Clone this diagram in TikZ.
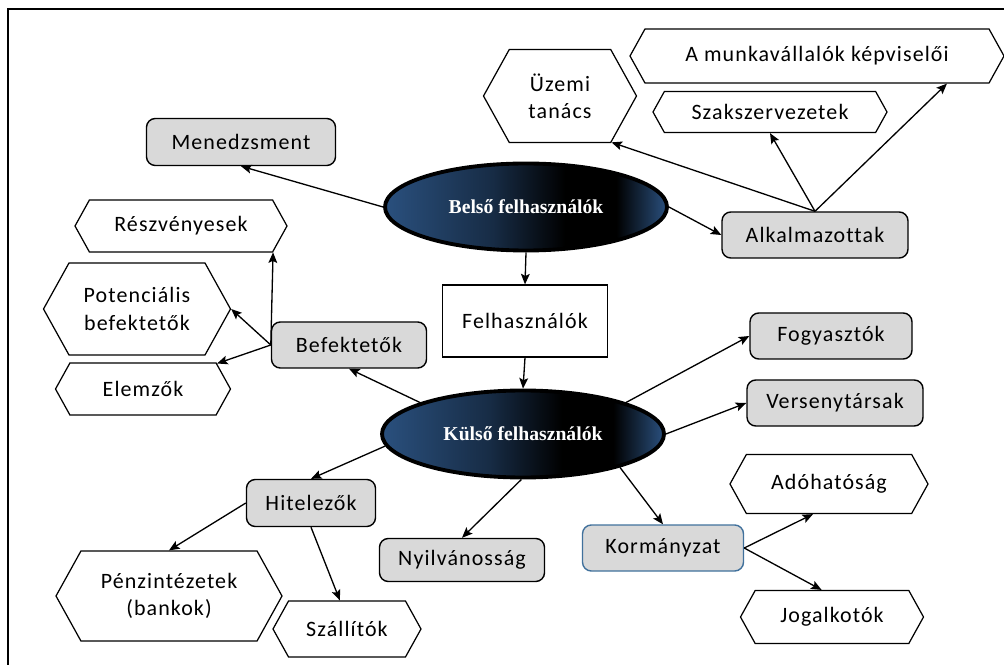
\documentclass[tikz,border=0pt]{standalone}
\usepackage{fontspec}
\setmainfont{Carlito}[LetterSpace=5,Ligatures=NoCommon]
\newfontfamily\ellfont{Liberation Serif}
\usetikzlibrary{arrows.meta,shapes.geometric,shapes.symbols}

\definecolor{ellblue}{RGB}{42,80,126}
\definecolor{boxgray}{RGB}{217,217,217}
\definecolor{korblue}{RGB}{65,113,156}
\pgfdeclarehorizontalshading{ellshade}{100bp}{color(0bp)=(ellblue); color(25bp)=(ellblue); color(44bp)=(ellblue!55!black); color(57bp)=(black); color(66bp)=(black); color(75bp)=(ellblue); color(100bp)=(ellblue)}

\begin{document}
\begin{tikzpicture}[x=0.02cm,y=-0.02cm,->,>={Stealth[length=6pt,width=5pt,inset=1.2pt]},line width=0.75pt,
  sz/.style 2 args={minimum width=#1*0.02cm,minimum height=#2*0.02cm},
  user node/.style={ellipse,draw,line width=2.2pt,shading=ellshade,text=white,inner sep=0pt,sz={282}{87},font=\ellfont\bfseries\fontsize{11.2}{13}\selectfont},
  group node/.style={rectangle,rounded corners=5pt,draw,fill=boxgray,line width=0.8pt,inner sep=0pt,font=\fontsize{12.5}{15}\selectfont},
  leaf node/.style={signal,signal to=west and east,signal pointer angle=122,draw,fill=white,line width=0.7pt,inner sep=0pt,align=center,font=\fontsize{12.5}{15.5}\selectfont}]
  \useasboundingbox (0,0) rectangle (1004,665);
  \draw[-,line width=1.7pt] (8,670) -- (8,9) -- (1010,9);

  \node[user node] (bel) at (526,207) {Belső felhasználók};
  \node[user node] (kul) at (523,434) {Külső felhasználók};
  \node[draw,line width=0.7pt,inner sep=0pt,sz={165}{72},font=\fontsize{12.5}{15}\selectfont] (fel) at (525,321) {Felhasználók};

  \node[group node,sz={189}{47}] (men) at (241,142) {Menedzsment};
  \node[group node,sz={186}{46}] (alk) at (815,235) {Alkalmazottak};
  \node[group node,sz={155}{46}] (bef) at (349,345) {Befektetők};
  \node[group node,sz={162}{46}] (fog) at (831,336) {Fogyasztók};
  \node[group node,sz={176}{46}] (ver) at (835,403) {Versenytársak};
  \node[group node,sz={129}{47}] (hit) at (311,503) {Hitelezők};
  \node[group node,sz={165}{43}] (nyi) at (462,560) {Nyilvánosság};
  \node[group node,sz={161}{46},draw=korblue] (kor) at (663,548) {Kormányzat};

  \node[leaf node,sz={212}{52}] (res) at (181,226) {Részvényesek};
  \node[leaf node,sz={187}{92}] (pot) at (137,309) {Potenciális\\befektetők};
  \node[leaf node,sz={175}{52}] (ele) at (143,389) {Elemzők};
  \node[leaf node,sz={153}{93}] (uze) at (560,96) {Üzemi\\tanács};
  \node[leaf node,sz={374}{54}] (mun) at (817,56) {A munkavállalók képviselői};
  \node[leaf node,sz={234}{41}] (szak) at (770,112) {Szakszervezetek};
  \node[leaf node,sz={198}{59}] (ado) at (829,484) {Adóhatóság};
  \node[leaf node,sz={183}{53}] (jog) at (832,617) {Jogalkotók};
  \node[leaf node,sz={226}{90}] (pen) at (169,596) {Pénzintézetek\\(bankok)};
  \node[leaf node,sz={148}{56}] (szal) at (347,629) {Szállítók};

\path
  (bel.west) edge (men.south)
  (bel.east) edge (alk.west)
  (bel.south) edge (fel.north)
  (fel.south) edge (kul.north)
  (alk.north) edge (uze.-42)
  (alk.north) edge (szak.south)
  (alk.north) edge (mun.-12.6)
  (kul.163) edge (bef.south)
  (bef.west) edge (res.-16)
  (bef.west) edge (pot.east)
  (bef.west) edge (ele.19)
  (kul.17) edge (fog.west)
  (kul.east) edge (ver.west)
  (kul.185) edge (hit.north)
  (kul.268) edge (nyi.north)
  (kul.-19) edge (kor.north)
  (kor.east) edge (ado.-118)
  (kor.east) edge (jog.111)
  (hit.west) edge (pen.north)
  (hit.south) edge (szal.104)
;
\end{tikzpicture}
\end{document}
